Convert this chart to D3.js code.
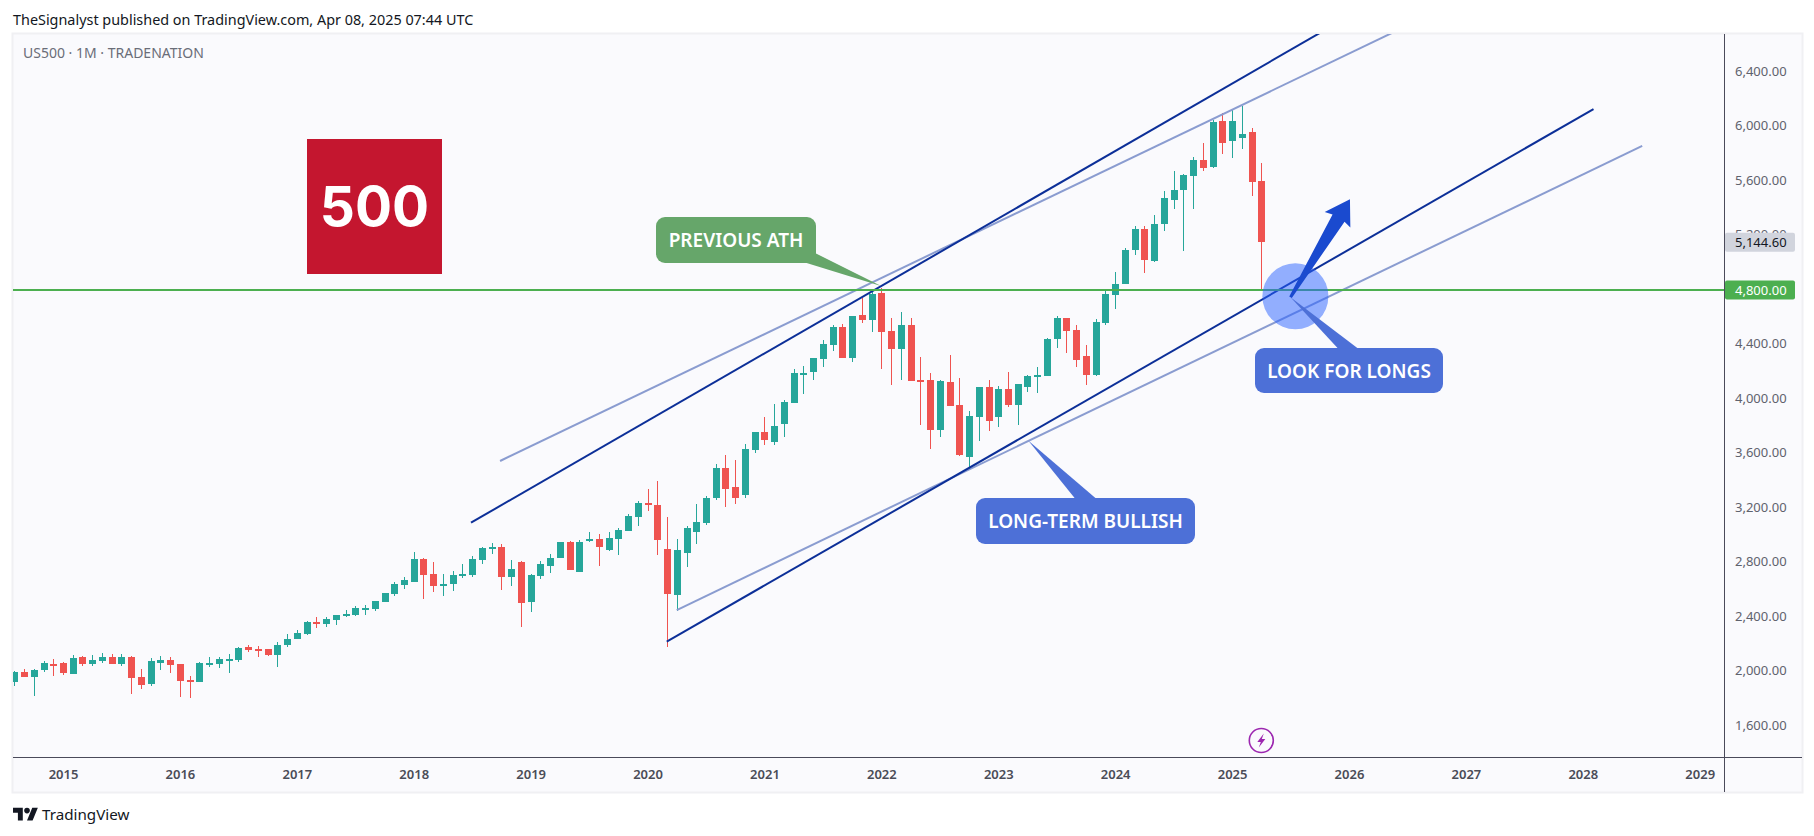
<!DOCTYPE html>
<html>
<head>
<meta charset="utf-8">
<title>US500 1M</title>
<script src="https://cdn.jsdelivr.net/npm/d3@7"></script>
<style>
    html, body { margin: 0; padding: 0; background: #fff; overflow: hidden; }
    text { font-family: "Noto Sans", sans-serif; }
    .price-axis text { font-size: 13px; fill: #5f626d; }
    .time-axis text { font-size: 13px; font-weight: 600; fill: #4a4c57; }
    .callout-text { font-size: 19px; font-weight: 600; fill: #fff; text-anchor: middle; dominant-baseline: central; }
</style>
</head>
<body>
<div id="chart"></div>
<script>
// Monthly candles, Aug 2014 to Apr 2025
const opens = [1917,1991,1954,2005,2049,2057,1976,2101,2049,2071,2101,2049,2101,1954,1902,2057,2079,2049,1932,1917,2049,2049,2079,2079,2174,2159,2159,2115,2189,2233,2270,2358,2343,2372,2402,2409,2453,2453,2504,2563,2629,2651,2820,2710,2622,2637,2695,2703,2813,2893,2908,2688,2798,2504,2695,2769,2827,2945,2725,2952,2967,2886,2967,3026,3129,3231,3217,2893,2556,2864,3018,3084,3268,3488,3349,3290,3620,3752,3679,3811,3965,4178,4193,4288,4391,4523,4295,4611,4575,4773,4494,4362,4538,4134,4134,3767,4119,3950,3569,3862,4083,3862,4068,3950,4083,4156,4163,4435,4589,4501,4310,4171,4552,4758,4839,5085,5245,5007,5279,5455,5529,5631,5749,5697,6035,5888,5910,5954,5595];
const highs = [1998,2012,2012,2071,2086,2064,2115,2108,2115,2130,2123,2123,2108,2012,2093,2108,2101,2049,1961,2064,2101,2101,2123,2174,2189,2181,2159,2211,2270,2299,2365,2394,2394,2409,2446,2475,2482,2512,2570,2651,2688,2871,2827,2798,2710,2732,2783,2842,2908,2938,2930,2813,2805,2710,2805,2857,2945,2952,2960,3018,3004,3018,3048,3150,3246,3334,3393,3128,2967,3062,3224,3283,3518,3584,3547,3664,3752,3862,3958,3987,4215,4237,4295,4428,4538,4545,4604,4736,4795,4809,4589,4633,4589,4303,4185,4134,4317,4149,3906,4083,4134,4090,4193,4105,4171,4229,4442,4604,4589,4538,4391,4582,4787,4927,5105,5262,5262,5345,5521,5668,5646,5771,5874,6042,6094,6123,6145,5984,5727];
const lows = [1888,1954,1814,1991,1961,1968,1976,2035,2035,2057,2049,2035,1829,1866,1888,2005,1983,1807,1800,1917,2027,2020,1983,2064,2137,2101,2108,2027,2174,2233,2262,2314,2321,2336,2394,2402,2409,2438,2504,2548,2600,2651,2526,2578,2548,2585,2681,2688,2783,2857,2593,2622,2321,2431,2673,2717,2827,2739,2725,2945,2769,2879,2849,3026,3062,3172,2849,2177,2438,2761,2930,3070,3253,3202,3224,3270,3598,3657,3657,3716,3965,4031,4134,4230,4347,4295,4266,4552,4486,4215,4097,4134,4127,3804,3628,3716,3943,3576,3481,3686,3760,3789,3936,3804,4046,4039,4163,4369,4332,4229,4097,4163,4538,4655,4839,5052,4919,5000,5228,5389,5081,5389,5668,5690,5793,5763,5830,5484,4794];
const closes = [1991,1954,2005,2057,2042,1983,2093,2049,2079,2101,2049,2101,1946,1895,2071,2079,2042,1924,1917,2057,2057,2086,2086,2167,2152,2152,2115,2189,2233,2277,2358,2350,2380,2409,2416,2460,2460,2512,2570,2637,2666,2820,2703,2622,2637,2703,2710,2820,2901,2908,2688,2747,2497,2703,2783,2827,2945,2739,2945,2967,2908,2974,3033,3136,3231,3224,2960,2563,2886,3048,3092,3268,3488,3334,3268,3627,3752,3694,3796,3972,4185,4183,4295,4398,4523,4295,4604,4575,4765,4486,4362,4538,4127,4119,3767,4127,3943,3583,3870,4083,3833,4068,3950,4105,4163,4171,4435,4589,4494,4281,4171,4560,4765,4839,5085,5245,5015,5279,5470,5529,5639,5749,5690,6028,5874,6035,5939,5587,5144.6];

// Axis labels
const priceTicks = [6400,6000,5600,5200,4400,4000,3600,3200,2800,2400,2000,1600];
const yearTicks = [2015,2016,2017,2018,2019,2020,2021,2022,2023,2024,2025,2026,2027,2028,2029];

// Levels and drawings, in [month index, price]
const lastPrice = 5144.6;
const athLevel = 4800;
const upperDark = [[46.88,3087],[134,6681]];
const upperLight = [[49.86,3540],[141.4,6681]];
const lowerDark = [[66.97,2214],[162.1,6123]];
const lowerLight = [[68,2446],[167.1,5852]];
const zoneCentre = [131.5,4749];
const arrowEnds = [[131,4741],[137.1,5461]];
const callouts = [
    { label: 'PREVIOUS ATH', tip: [88.97,4824], fill: '#66a66a' },
    { label: 'LONG-TERM BULLISH', tip: [104.1,3689], fill: '#4d70d7' },
    { label: 'LOOK FOR LONGS', tip: [131,4741], fill: '#4d70d7' }
];
const calloutBoxes = [
    { x: 656, y: 217, w: 160, h: 46, tail: [805, 815], side: 'corner' },
    { x: 976, y: 498, w: 219, h: 46, tail: [1075, 1096] },
    { x: 1255, y: 348, w: 188, h: 45, tail: [1338, 1358] }
];

const width = 1814;
const height = 836;
const pane = { left: 13, top: 34, right: 1802, bottom: 792, axisX: 1724, axisY: 757 };

const svg = d3.select('#chart').append('svg')
    .attr('width', width)
    .attr('height', height)
    .style('display', 'block');

const x = d3.scaleLinear().domain([0, 128]).range([14.3, 1261.3]);
const y = d3.scaleLinear().domain([1600, 6400]).range([725.3, 71.3]);
const point = d => [x(d[0]), y(d[1])];

// Header
svg.append('text')
    .attr('x', 13).attr('y', 25)
    .attr('fill', '#131722')
    .style('font-size', '14.4px')
    .text('TheSignalyst published on TradingView.com, Apr 08, 2025 07:44 UTC');

// Pane
svg.append('rect')
    .attr('x', pane.left - 0.5).attr('y', pane.top - 0.5)
    .attr('width', pane.right - pane.left + 1).attr('height', pane.bottom - pane.top + 1)
    .attr('fill', '#fafafd')
    .attr('stroke', '#f0f0f3')
    .attr('stroke-width', 2);

svg.append('text')
    .attr('x', 23).attr('y', 58)
    .attr('fill', '#6a6d78')
    .style('font-size', '14px')
    .text('US500 · 1M · TRADENATION');

svg.append('clipPath').attr('id', 'plot-clip').append('rect')
    .attr('x', pane.left).attr('y', pane.top)
    .attr('width', pane.axisX - pane.left).attr('height', pane.axisY - pane.top);

const plot = svg.append('g').attr('clip-path', 'url(#plot-clip)');

// Candles
const candles = closes.map((c, i) => ({ i, open: opens[i], high: highs[i], low: lows[i], close: c }));
const colour = d => d.close >= d.open ? '#26a69a' : '#ef5350';

const candle = plot.append('g').selectAll('g')
    .data(candles)
    .enter()
    .append('g')
    .attr('fill', colour);

candle.append('rect')
    .attr('x', d => Math.round(x(d.i)))
    .attr('width', 1)
    .attr('y', d => Math.round(y(d.high)))
    .attr('height', d => Math.max(1, Math.round(y(d.low)) - Math.round(y(d.high))));

candle.append('rect')
    .attr('x', d => Math.round(x(d.i)) - 3)
    .attr('width', 7)
    .attr('y', d => Math.round(y(Math.max(d.open, d.close))))
    .attr('height', d => Math.max(2, Math.round(y(Math.min(d.open, d.close))) - Math.round(y(Math.max(d.open, d.close)))));

// Trend lines
const line = d3.line().x(d => x(d[0])).y(d => y(d[1]));
[[upperLight, '#8a9cd0'], [lowerLight, '#8a9cd0'], [upperDark, '#0c2f98'], [lowerDark, '#0c2f98']].forEach(([pts, stroke]) => {
    plot.append('path')
        .attr('d', line(pts))
        .attr('fill', 'none')
        .attr('stroke', stroke)
        .attr('stroke-width', 2);
});

// Previous ATH level
const athY = Math.round(y(athLevel)) + 1;
plot.append('line')
    .attr('x1', pane.left).attr('x2', pane.axisX)
    .attr('y1', athY).attr('y2', athY)
    .attr('stroke', '#4caf50')
    .attr('stroke-width', 2);

// "500" badge
svg.append('rect')
    .attr('x', 307).attr('y', 139)
    .attr('width', 135).attr('height', 135)
    .attr('fill', '#c4162f');
svg.append('text')
    .attr('x', 374.5).attr('y', 226)
    .attr('text-anchor', 'middle')
    .attr('fill', '#fff')
    .style('font-family', 'Inter, sans-serif')
    .style('font-size', '55px')
    .style('font-weight', 700)
    .text('500');

// Highlighted zone under the arrow
const [zoneX, zoneY] = point(zoneCentre);
plot.append('circle')
    .attr('cx', zoneX).attr('cy', zoneY)
    .attr('r', 33)
    .attr('fill', 'rgba(41, 98, 255, 0.5)');

// Callouts
callouts.forEach((c, i) => {
    const box = calloutBoxes[i];
    const [tipX, tipY] = point(c.tip);
    const g = plot.append('g');
    const tail = box.side === 'corner'
        ? [[box.tail[0], box.y + box.h - 0.5], [box.tail[1], box.y + box.h - 10], [tipX, tipY]]
        : [[box.tail[0], box.y + 0.5], [box.tail[1], box.y + 0.5], [tipX, tipY]];
    g.append('rect')
        .attr('x', box.x).attr('y', box.y)
        .attr('width', box.w).attr('height', box.h)
        .attr('rx', 9)
        .attr('fill', c.fill);
    g.append('path')
        .attr('d', d3.line()(tail) + 'Z')
        .attr('fill', c.fill);
    g.append('text')
        .attr('class', 'callout-text')
        .attr('x', box.x + box.w / 2).attr('y', box.y + box.h / 2)
        .text(c.label);
});

// Arrow
(function drawArrow() {
    const [tx, ty] = point(arrowEnds[0]);
    const [hx, hy] = point(arrowEnds[1]);
    const len = Math.hypot(hx - tx, hy - ty);
    const ux = (hx - tx) / len, uy = (hy - ty) / len;
    const nx = -uy, ny = ux;
    const at = (back, side) => [hx - ux * back + nx * side, hy - uy * back + ny * side];
    const shape = [
        [tx - nx * 1.5, ty - ny * 1.5],
        at(22, -7), at(24, -15), [hx, hy], at(24, 15), at(22, 7),
        [tx + nx * 1.5, ty + ny * 1.5]
    ];
    plot.append('path')
        .attr('d', d3.line()(shape) + 'Z')
        .attr('fill', '#1a4acf');
})();

// Earnings style marker on the last bar
const marker = plot.append('g').attr('transform', `translate(${x(128)}, 740.5)`);
marker.append('ellipse')
    .attr('rx', 12).attr('ry', 12)
    .attr('fill', 'none')
    .attr('stroke', '#9c27b0')
    .attr('stroke-width', 1.6);
marker.append('path')
    .attr('d', 'M2.5,-7 L-4,1.5 L-0.5,1.5 L-2.5,7 L4,-1.5 L0.5,-1.5 Z')
    .attr('fill', '#9c27b0');

// Axes
const priceAxis = svg.append('g')
    .attr('class', 'price-axis')
    .attr('transform', `translate(${pane.axisX}, 0)`)
    .call(d3.axisRight(y).tickValues(priceTicks).tickSize(0).tickPadding(11).tickFormat(d3.format(',.2f')));
priceAxis.select('.domain').remove();

const monthIndex = yr => (yr - 2014) * 12 - 7;
const timeAxis = svg.append('g')
    .attr('class', 'time-axis')
    .attr('transform', `translate(0, ${pane.axisY})`)
    .call(d3.axisBottom(x).tickValues(yearTicks.map(monthIndex)).tickSize(0).tickPadding(13)
        .tickFormat(d => yearTicks[yearTicks.map(monthIndex).indexOf(d)]));
timeAxis.select('.domain').remove();

svg.append('line')
    .attr('x1', pane.axisX + 0.5).attr('x2', pane.axisX + 0.5)
    .attr('y1', pane.top).attr('y2', pane.bottom)
    .attr('stroke', '#4a4a5a');
svg.append('line')
    .attr('x1', pane.left).attr('x2', pane.right)
    .attr('y1', pane.axisY + 0.5).attr('y2', pane.axisY + 0.5)
    .attr('stroke', '#4a4a5a');

// Price tags
[[lastPrice, '#d1d4dd', '#131722', y(lastPrice)], [athLevel, '#4caf50', '#fff', athY]].forEach(([price, fill, ink, tagY]) => {
    svg.append('rect')
        .attr('x', pane.axisX + 1).attr('y', tagY - 9.5)
        .attr('width', 70).attr('height', 19)
        .attr('rx', 2)
        .attr('fill', fill);
    svg.append('text')
        .attr('x', pane.axisX + 11).attr('y', tagY)
        .attr('dominant-baseline', 'central')
        .attr('fill', ink)
        .style('font-size', '13px')
        .text(d3.format(',.2f')(price));
});

// Footer logo
const logo = svg.append('g').attr('transform', 'translate(13, 805) scale(0.7)').attr('fill', '#131722');
logo.append('path').attr('d', 'M14 22H7V11H0V4h14v18zM28 22h-8l7.5-18h8L28 22z');
logo.append('circle').attr('cx', 20).attr('cy', 8).attr('r', 4);
svg.append('text')
    .attr('x', 42).attr('y', 820)
    .attr('fill', '#131722')
    .style('font-size', '15.2px')
    .text('TradingView');
</script>
</body>
</html>
